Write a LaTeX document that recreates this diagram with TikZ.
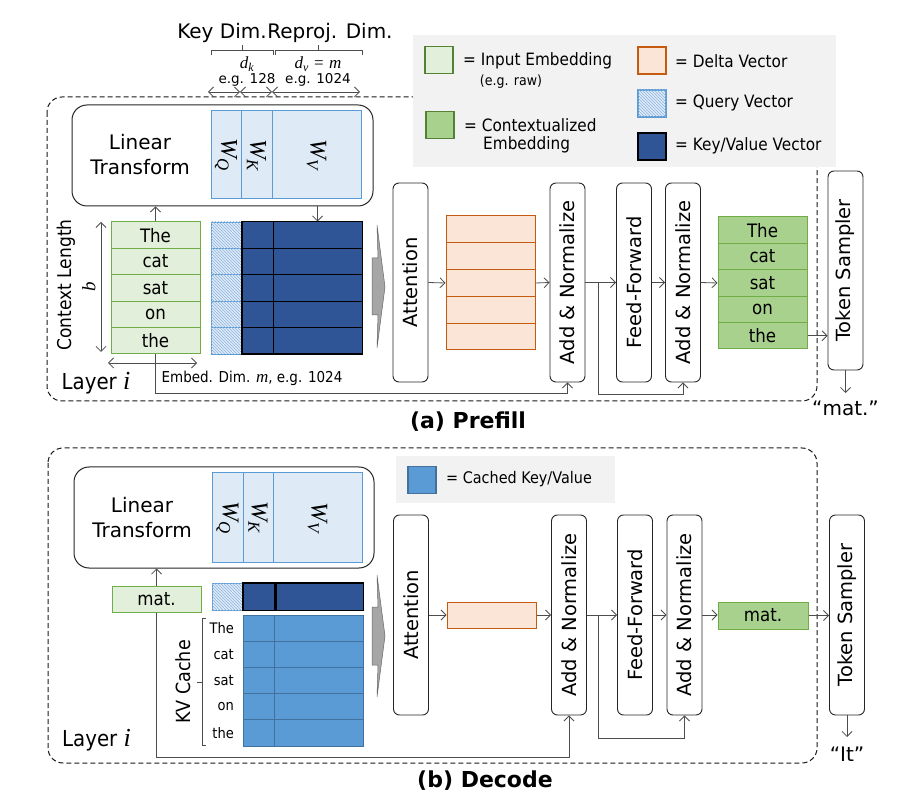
\documentclass[tikz,border=0pt]{standalone}
\usepackage{fix-cm}
\usepackage{fontspec}
\setmainfont{DejaVu Sans}
\newfontfamily\cnd{DejaVu Sans}[FakeStretch=0.9]
\newfontfamily\sit{Liberation Serif}
\newcommand{\vi}[1]{{\sit\itshape #1}}
\usetikzlibrary{arrows.meta,patterns,calc}
\definecolor{infill}{HTML}{E2EFDA}
\definecolor{indraw}{HTML}{70AD47}
\definecolor{ctxfill}{HTML}{A9D18E}
\definecolor{ctxdraw}{HTML}{70AD47}
\definecolor{lgdraw}{HTML}{548235}
\definecolor{dfill}{HTML}{FBE5D6}
\definecolor{ddraw}{HTML}{C55A11}
\definecolor{qfill}{HTML}{DEEBF7}
\definecolor{qdraw}{HTML}{5B9BD5}
\definecolor{qhatch}{HTML}{8FB4DE}
\definecolor{kvfill}{HTML}{2F5597}
\definecolor{cfill}{HTML}{5B9BD5}
\definecolor{cdraw}{HTML}{41719C}
\definecolor{lgbg}{HTML}{F2F2F2}
\definecolor{garrow}{HTML}{A6A6A6}
\definecolor{lnc}{HTML}{4D4D4D}
\tikzset{
  blk/.style={draw=black!85, line width=0.9pt, rounded corners=6pt, minimum width=35pt, minimum height=199pt, inner sep=0pt, font=\fontsize{19.5}{23}\selectfont},
  conn/.style={draw=lnc, line width=0.8pt, -{Straight Barb[length=5pt,width=10pt]}},
  dbl/.style={draw=lnc, line width=0.8pt, {Straight Barb[length=5pt,width=10pt]}-{Straight Barb[length=5pt,width=10pt]}},
  brk/.style={draw=lnc, line width=0.8pt},
  hdr/.style={inner sep=0pt, font=\fontsize{20}{24}\selectfont},
  sml/.style={inner sep=0pt, font=\fontsize{13.5}{16}\selectfont},
  mth/.style={inner sep=0pt, font=\fontsize{17}{19}\selectfont},
  lgt/.style={inner sep=0pt, anchor=west, font=\cnd\fontsize{17}{20}\selectfont},
  lgsq/.style={minimum width=28pt, minimum height=27pt, inner sep=0pt, line width=1.2pt},
  inrow/.style={draw=indraw, fill=infill, line width=1pt, minimum width=89pt, minimum height=26.4pt, inner sep=0pt, font=\cnd\fontsize{18.5}{20}\selectfont},
  outrow/.style={inrow, fill=ctxfill, draw=ctxdraw},
  drow/.style={draw=ddraw, fill=dfill, line width=1pt, minimum width=89pt, minimum height=26.8pt, inner sep=0pt},
  qcell/.style={draw=qdraw, fill=qfill, line width=0.8pt, minimum width=31pt, minimum height=26.4pt, inner sep=0pt, postaction={pattern=north west lines, pattern color=qhatch}},
  kcell/.style={draw=black, fill=kvfill, line width=1pt, minimum width=31pt, minimum height=26.4pt, inner sep=0pt},
  vcell/.style={kcell, minimum width=89pt},
  ccell/.style={draw=cdraw, fill=cfill, line width=0.9pt, minimum height=26.2pt, inner sep=0pt},
  wbox/.style={draw=qdraw, fill=qfill, line width=1pt, inner sep=0pt, minimum height=88pt, font=\fontsize{24}{28}\selectfont},
  ltbox/.style={draw=black!85, line width=1pt, rounded corners=15pt, minimum width=301pt, minimum height=101pt, inner sep=0pt},
  ltt/.style={inner sep=0pt, align=center, font=\fontsize{20}{25}\selectfont},
  frame/.style={draw=black!90, line width=1pt, dash pattern=on 5pt off 3pt, rounded corners=15pt},
  garr/.style={fill=garrow, draw=gray!80!black, line width=0.5pt},
  ttl/.style={inner sep=0pt, font=\bfseries\fontsize{22}{26}\selectfont},
  lay/.style={inner sep=0pt, font=\cnd\fontsize{22}{26}\selectfont},
}
\begin{document}
\begin{tikzpicture}[x=1pt,y=-1pt]
\useasboundingbox (0,0) rectangle (922,810);

%================ PREFILL ================
\draw[frame] (47,97) rectangle (817,401);

% header
\node[hdr] (kd) at (222,33) {Key Dim.};
\node[hdr] (rd) at (330,33) {Reproj. Dim.};
\draw[brk] (211,55) -- (211,50) -- (273,50) -- (273,55);
\draw[brk] (242,50) -- (242,45);
\draw[brk] (275,55) -- (275,50) -- (362,50) -- (362,55);
\draw[brk] (318,50) -- (318,45);
\node[mth] (dk) at (247,64) {\vi{d}\textsubscript{\vi{k}}};
\node[mth] (dv) at (318,64) {\vi{d}\textsubscript{\vi{v}} {\sit=} \vi{m}};
\node[sml] (eg1) at (247,80) {e.g. 128};
\node[sml] (eg2) at (318,80) {e.g. 1024};
\coordinate (h1) at (208,92); \coordinate (h2) at (240,92);
\coordinate (h3) at (272,92); \coordinate (h4) at (360,92);
\draw[dbl] (h1) -- (h2);
\draw[dbl] (h2) -- (h3);
\draw[dbl] (h3) -- (h4);

% legend
\node[fill=lgbg, minimum width=423pt, minimum height=132pt, inner sep=0pt] (lg1) at (624.5,101) {};
\node[lgsq, fill=infill, draw=lgdraw] (lsi) at (439,60) {};
\node[lgt] (lti) at (463,61) {= Input Embedding};
\node[inner sep=0pt, font=\cnd\fontsize{14}{16}\selectfont] (ltr) at (511,82) {(e.g. raw)};
\node[lgsq, fill=ctxfill, draw=lgdraw] (lsc) at (440,125) {};
\node[lgt] (ltc) at (464,125) {= Contextualized};
\node[lgt] (ltc2) at (483,145) {Embedding};
\node[lgsq, fill=dfill, draw=ddraw] (lsd) at (652,60.5) {};
\node[lgt] (ltd) at (675,61) {= Delta Vector};
\node[lgsq, fill=qfill, draw=qdraw, postaction={pattern=north west lines, pattern color=qhatch}] (lsq) at (652,103.5) {};
\node[lgt] (ltq) at (675,103) {= Query Vector};
\node[lgsq, fill=kvfill, draw=black] (lsk) at (652,146.5) {};
\node[lgt] (ltk) at (675,146) {= Key/Value Vector};

% linear transform
\node[ltbox] (lt1) at (222.5,155.5) {};
\node[ltt] (ltt1) at (140,155) {Linear\\Transform};
\node[wbox, minimum width=30pt] (wq1) at (226,155) {\rotatebox{-90}{\vi{W}\textsubscript{\vi{Q}}}};
\node[wbox, minimum width=31pt] (wk1) at (256.5,155) {\rotatebox{-90}{\vi{W}\textsubscript{\vi{K}}}};
\node[wbox, minimum width=89pt] (wv1) at (316.5,155) {\rotatebox{-90}{\vi{W}\textsubscript{\vi{V}}}};

% input embeddings and QKV
\foreach \w [count=\i] in {The,cat,sat,on,the} {
  \pgfmathsetmacro\yy{222+13.2+(\i-1)*26.4}
  \node[inrow] (in\i) at (155.5,\yy) {\w};
  \node[qcell] (q\i) at (226.5,\yy) {};
  \node[kcell] (k\i) at (257.5,\yy) {};
  \node[vcell] (v\i) at (317.5,\yy) {};
}
\draw[black, line width=1.2pt] (k1.north west) rectangle (v5.south east);
\draw[conn] (in1.north) -- (in1.north |- lt1.south);
\draw[conn] (lt1.south -| v1.north) -- (v1.north);

% dims
\coordinate (cl1) at (101,222); \coordinate (cl2) at (101,352);
\draw[dbl] (cl1) -- (cl2);
\node[inner sep=0pt, font=\cnd\fontsize{19}{22}\selectfont] (clt) at (66,285) {\rotatebox{90}{Context Length}};
\node[inner sep=0pt, font=\fontsize{19}{22}\selectfont] (clb) at (89,287) {\rotatebox{90}{\vi{b}}};
\coordinate (ed1) at (108,363); \coordinate (ed2) at (197,363);
\draw[dbl] (ed1) -- (ed2);
\node[inner sep=0pt, font=\cnd\fontsize{15}{18}\selectfont] (edt) at (252,378) {Embed. Dim. {\fontsize{17}{18}\selectfont\vi{m}}, e.g. 1024};
\node[lay] (lay1) at (96,383) {Layer {\fontsize{26}{28}\selectfont\vi{i}}};

% grey chevron
\draw[garr] (372,258) -- (378,258) -- (377,225) -- (385,287) -- (377,348) -- (378,315) -- (372,315) -- cycle;

% blocks
\node[blk] (att1) at (410.5,282.5) {\rotatebox{90}{Attention}};
\foreach \i in {1,...,5} {
  \node[drow] (d\i) at (490.5,{216+13.4+(\i-1)*26.8}) {};
}
\node[blk] (an1a) at (567.5,282.5) {\rotatebox{90}{Add \& Normalize}};
\node[blk] (ff1) at (634,282.5) {\rotatebox{90}{Feed-Forward}};
\node[blk] (an1b) at (683,282.5) {\rotatebox{90}{Add \& Normalize}};
\foreach \w [count=\i] in {The,cat,sat,on,the} {
  \node[outrow] (o\i) at (762.5,{217+13.2+(\i-1)*26.4}) {\w};
}
\node[blk] (ts1) at (845.5,270.5) {\rotatebox{90}{Token Sampler}};

\draw[conn] (att1.east) -- (d3.west);
\draw[conn] (d3.east) -- (an1a.west);
\draw[conn] (an1a.east) -- (ff1.west);
\draw[conn] (ff1.east) -- (an1b.west);
\draw[conn] (an1b.east) -- (o3.west);
\draw[conn] (o5.east) -- (o5.east -| ts1.west);
\coordinate (ot1) at (845.5,393);
\draw[conn] (ts1.south) -- (ot1);
\node[inner sep=0pt, font=\fontsize{20}{24}\selectfont] (out1) at (845.5,408) {“mat.”};

\coordinate (r1) at (an1a.south |- 0,393);
\draw[conn] (in5.south) |- (r1) -- (an1a.south);
\coordinate (b1) at (598,282.5);
\coordinate (r2) at (an1b.south |- 0,394);
\draw[conn] (b1) |- (r2) -- (an1b.south);

\node[ttl] (t1) at (468,422) {(a) Prefill};

%================ DECODE ================
\draw[frame] (48,448) rectangle (817,763);

\node[fill=lgbg, minimum width=219pt, minimum height=47pt, inner sep=0pt] (lg2) at (505.5,479.5) {};
\node[lgsq, fill=cfill, draw=cdraw] (lscc) at (422,480) {};
\node[lgt, font=\cnd\fontsize{16}{19}\selectfont] (ltcc) at (446,479) {= Cached Key/Value};

\node[ltbox, minimum width=300pt] (lt2) at (224,517.5) {};
\node[ltt] (ltt2) at (142,518) {Linear\\Transform};
\node[wbox, minimum width=31pt, minimum height=89pt] (wq2) at (227.5,517.5) {\rotatebox{-90}{\vi{W}\textsubscript{\vi{Q}}}};
\node[wbox, minimum width=30pt, minimum height=89pt] (wk2) at (258,517.5) {\rotatebox{-90}{\vi{W}\textsubscript{\vi{K}}}};
\node[wbox, minimum width=89pt, minimum height=89pt] (wv2) at (317.5,517.5) {\rotatebox{-90}{\vi{W}\textsubscript{\vi{V}}}};

\node[inrow, minimum height=26pt] (mi) at (156.5,599) {mat.};
\node[qcell, minimum height=27pt] (qq) at (227.5,596.5) {};
\node[kcell, minimum width=32pt, minimum height=27pt] (kk) at (259,596.5) {};
\node[kcell, minimum width=88pt, minimum height=27pt] (vv) at (319,596.5) {};
\draw[black, line width=1.2pt] (kk.north west) rectangle (vv.south east);
\draw[black, line width=2.2pt] (kk.north east) -- (kk.south east);

\foreach \w [count=\i] in {The,cat,sat,on,the} {
  \pgfmathsetmacro\yy{615+13.1+(\i-1)*26.2}
  \node[ccell, minimum width=31pt] (ck\i) at (258.5,\yy) {};
  \node[ccell, minimum width=89pt] (cv\i) at (318.5,\yy) {};
  \node[inner sep=0pt, anchor=east, font=\cnd\fontsize{14.5}{17}\selectfont] (cw\i) at (234,\yy) {\w};
}
\draw[brk] (206,618) -- (202,618) -- (202,745) -- (206,745);
\draw[brk] (202,682) -- (197,682);
\node[inner sep=0pt, font=\cnd\fontsize{19.5}{22}\selectfont] (kvc) at (183,682) {\rotatebox{90}{KV Cache}};
\node[lay] (lay2) at (96.5,740) {Layer {\fontsize{26}{28}\selectfont\vi{i}}};

\draw[garr] (372,607) -- (378,607) -- (377,575) -- (385,636) -- (377,697) -- (378,665) -- (372,665) -- cycle;

\node[blk, minimum height=200pt] (att2) at (411,615) {\rotatebox{90}{Attention}};
\node[drow, minimum height=26pt] (dd) at (491.5,615) {};
\node[blk, minimum height=200pt] (an2a) at (569,615) {\rotatebox{90}{Add \& Normalize}};
\node[blk, minimum height=200pt] (ff2) at (635,615) {\rotatebox{90}{Feed-Forward}};
\node[blk, minimum height=200pt] (an2b) at (684.5,615) {\rotatebox{90}{Add \& Normalize}};
\node[outrow, minimum width=90pt, minimum height=27pt] (om) at (763,615.5) {mat.};
\node[blk, minimum height=200pt] (ts2) at (847,615) {\rotatebox{90}{Token Sampler}};

\draw[conn] (att2.east) -- (dd.west);
\draw[conn] (dd.east) -- (an2a.west);
\draw[conn] (an2a.east) -- (ff2.west);
\draw[conn] (ff2.east) -- (an2b.west);
\draw[conn] (an2b.east) -- (an2b.east -| om.west);
\draw[conn] (om.east) -- (om.east -| ts2.west);
\coordinate (ot2) at (847,737);
\draw[conn] (ts2.south) -- (ot2);
\node[inner sep=0pt, font=\fontsize{20}{24}\selectfont] (out2) at (847,754) {“It”};

\coordinate (r3) at (an2a.south |- 0,757);
\draw[conn] (mi.south) |- (r3) -- (an2a.south);
\draw[conn] (mi.north) -- (mi.north |- lt2.south);
\coordinate (b2) at (598,615);
\coordinate (r4) at (an2b.south |- 0,738);
\draw[conn] (b2) |- (r4) -- (an2b.south);

\node[ttl] (t2) at (485,781) {(b) Decode};
\end{tikzpicture}
\end{document}
